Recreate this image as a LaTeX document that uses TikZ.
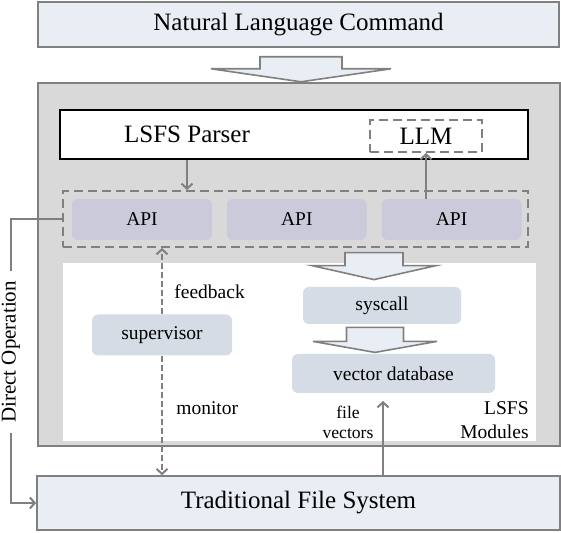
\documentclass[tikz,border=0pt]{standalone}
\usepackage{fontspec}
\setmainfont{Liberation Serif}
\usepackage{xcolor}
\usetikzlibrary{calc, positioning, arrows.meta}

\definecolor{edgegray}{HTML}{808080}
\definecolor{boxfill}{HTML}{E9EDF4}
\definecolor{framefill}{HTML}{D9D9D9}
\definecolor{apifill}{HTML}{CBCADB}
\definecolor{modfill}{HTML}{D6DCE5}

\begin{document}
\begin{tikzpicture}[x=0.5pt,y=-0.5pt,node distance=7pt,
                    big font/.style={font=\fontsize{12.5}{15}\selectfont},
                    small font/.style={font=\fontsize{9.75}{12}\selectfont},
                    outer box/.style={draw=edgegray,line width=0.8pt,fill=boxfill,big font,inner sep=0pt},
                    dash box/.style={draw=edgegray,line width=1pt,dash pattern=on 4.5pt off 2.5pt,inner sep=0pt},
                    api node/.style={fill=apifill,rounded corners=3pt,small font,inner sep=0pt,
                                     minimum width=70pt,minimum height=20.5pt},
                    module node/.style={fill=modfill,rounded corners=3pt,small font,inner sep=0pt},
                    label text/.style={small font,inner sep=0pt},
                    conn/.style={draw=edgegray,line width=1pt,-{Straight Barb[length=2.5pt,width=5.5pt]}},
                    dashed conn/.style={conn,dash pattern=on 3pt off 1.5pt},
                    pics/block arrow/.style n args={4}{code={
                      \draw[draw=edgegray,line width=0.8pt,fill=boxfill]
                        (-#1,0) -- (#1,0) -- (#1,#3) -- (#2,#3) -- (0,#4) -- (-#2,#3) -- (-#1,#3) -- cycle;}}]

  \useasboundingbox (0,0) rectangle (561,533);

  \node[outer box,minimum width=260.5pt,minimum height=22.5pt] (nlc) at (298.5,24.5) {Natural Language Command};
  \node[draw=edgegray,line width=0.8pt,fill=framefill,minimum width=261pt,minimum height=181.5pt] (lsfs) at (299,264.5) {};
  \pic at ($(nlc.south)+(2.5,9)$) {block arrow={41}{90}{12}{25}};

  \node[draw=black,line width=0.6pt,fill=white,minimum width=234pt,minimum height=24.5pt] (parser) at (294,134.5) {};
  \node[big font] (parsertext) at (187,134.5) {LSFS Parser};
  \node[dash box,big font,minimum width=56pt,minimum height=16pt] (llm) at (426,136) {LLM};

  \node[dash box,minimum width=232.5pt,minimum height=28pt] (apiframe) at (295.5,219) {};
  \node[api node] (api1) at (142,219.5) {API};
  \node[api node,right=of api1] (api2) {API};
  \node[api node,right=of api2] (api3) {API};

  \node[fill=white,inner sep=0pt,minimum width=236.5pt,minimum height=89pt] (modules) at (299.5,352) {};
  \node[module node,minimum width=79pt,minimum height=18.5pt] (syscall) at (382,305.5) {syscall};
  \node[module node,minimum width=70pt,minimum height=20.5pt] (supervisor) at (162,335) {supervisor};
  \node[module node,minimum width=101.5pt,minimum height=19.5pt] (vecdb) at (393.5,373.5) {vector database};
  \pic at ($(syscall.north)+(-8,-34)$) {block arrow={29}{62}{13}{27}};
  \pic at ($(syscall.south)+(-7,3)$) {block arrow={28.5}{62}{14}{25}};

  \node[label text,anchor=west] (feedback) at (174,292) {feedback};
  \node[label text,anchor=west] (monitor) at (176,408) {monitor};
  \node[font=\fontsize{8.8}{10}\selectfont,align=center,inner sep=0pt] (fv) at (348,422) {file\\vectors};
  \node[label text,align=right,anchor=east] (lsfsmod) at (529,420) {LSFS\\Modules};

  \node[outer box,minimum width=261.5pt,minimum height=27pt] (tfs) at (298.5,503) {Traditional File System};
  \node[font=\fontsize{10.5}{12.5}\selectfont,rotate=90,inner sep=5pt] (dirop) at (11,352) {Direct Operation};

  \coordinate (vecin) at (383,401);

  \draw[conn] (parser.south -| parsertext) -- (apiframe.north -| parsertext);
  \draw[conn] (api3.north -| llm) -- (llm.south);
  \draw[dashed conn] (supervisor.north) -- (apiframe.south -| supervisor);
  \draw[dashed conn] (supervisor.south) -- (tfs.north -| supervisor);
  \draw[conn] (tfs.north -| vecin) -- (vecin);
  \draw[draw=edgegray,line width=1pt] (apiframe.west) -| (dirop.east);
  \draw[conn] (dirop.west) |- (tfs.west);

\end{tikzpicture}
\end{document}
